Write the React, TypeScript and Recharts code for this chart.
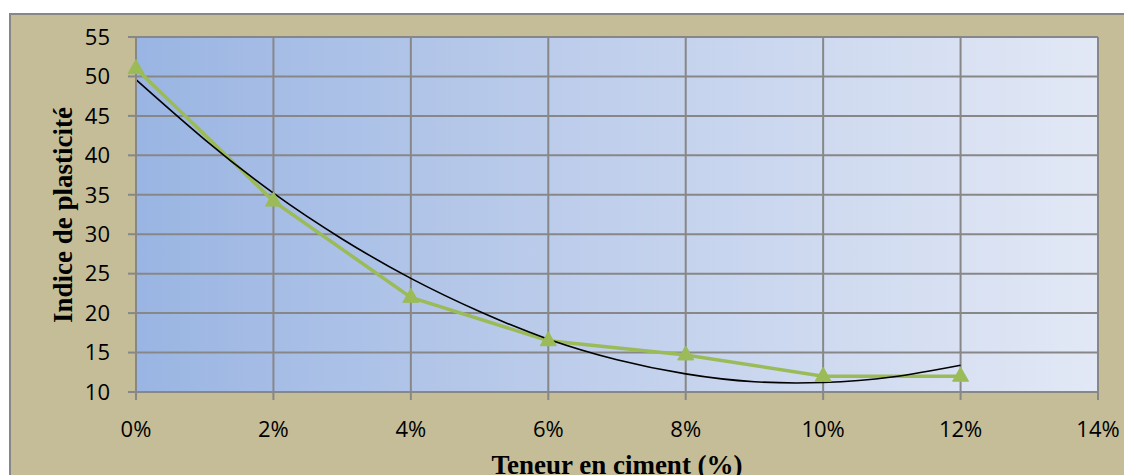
import { CartesianGrid, Label, Line, LineChart, XAxis, YAxis } from "recharts";

// teneur en ciment (%) et indice de plasticité mesuré
const cement = [0, 2, 4, 6, 8, 10, 12];
const plasticity = [51.0, 34.2, 22.0, 16.5, 14.7, 12.0, 12.0];

// courbe de tendance (polynomiale)
const trendCement = [0, 1, 2, 3, 4, 5, 6, 7, 8, 9, 10, 11, 12];
const trendPlasticity = [49.6, 42.0, 35.2, 29.4, 24.4, 20.2, 16.7, 14.1, 12.3, 11.3, 11.2, 11.9, 13.4];

const xTicks = [0, 2, 4, 6, 8, 10, 12, 14];
const yTicks = [10, 15, 20, 25, 30, 35, 40, 45, 50, 55];

const measured = cement.map((x, i) => ({ x, y: plasticity[i] }));
const trend = trendCement.map((x, i) => ({ x, y: trendPlasticity[i] }));

const gridColor = "#878787";
const green = "#9BBB59";
const tickFont = { fontSize: 22, fill: "#000", fontFamily: "'Open Sans', sans-serif" };
const labelFont = "'Liberation Serif', 'Times New Roman', serif";

function Triangle(props: any) {
  const { cx, cy } = props;
  if (cx == null || cy == null) return null;
  return (
    <polygon
      points={`${cx},${cy - 9} ${cx - 8},${cy + 5} ${cx + 8},${cy + 5}`}
      fill={green}
      stroke={green}
      strokeWidth={1}
    />
  );
}

export default function App() {
  return (
    <div
      style={{
        position: "absolute",
        left: 9,
        top: 13,
        width: 1115,
        height: 462,
        background: "#C4BD97",
        borderTop: `2px solid ${gridColor}`,
        borderLeft: `2px solid ${gridColor}`,
        overflow: "hidden",
        boxSizing: "border-box"
      }}
    >
      <LineChart width={1113} height={460} margin={{ top: 22, right: 26, left: 0, bottom: 0 }}>
        <defs>
          <linearGradient id="plotBg" x1="0" y1="0" x2="1" y2="0">
            <stop offset="0%" stopColor="#9AB5E3" />
            <stop offset="45%" stopColor="#BDCDEB" />
            <stop offset="100%" stopColor="#E2E8F5" />
          </linearGradient>
        </defs>
        <CartesianGrid stroke={gridColor} strokeWidth={2} fill="url(#plotBg)" fillOpacity={1} />
        <XAxis
          type="number"
          dataKey="x"
          domain={[0, 14]}
          ticks={xTicks}
          interval={0}
          tickFormatter={(v) => `${v}%`}
          tick={tickFont}
          tickSize={8}
          tickMargin={21}
          stroke={gridColor}
          strokeWidth={2}
          height={83}
          allowDuplicatedCategory={false}
        >
          <Label
            content={() => (
              <text
                x={606}
                y={459}
                textAnchor="middle"
                fontFamily={labelFont}
                fontWeight="bold"
                fontSize={27}
                fill="#000"
              >
                Teneur en ciment (%)
              </text>
            )}
          />
        </XAxis>
        <YAxis
          type="number"
          domain={[10, 55]}
          ticks={yTicks}
          interval={0}
          tick={tickFont}
          tickSize={8}
          tickMargin={18}
          stroke={gridColor}
          strokeWidth={2}
          width={125}
        >
          <Label
            content={() => (
              <text
                x={52}
                y={200}
                transform="rotate(-90 52 200)"
                textAnchor="middle"
                dominantBaseline="central"
                fontFamily={labelFont}
                fontWeight="bold"
                fontSize={27}
                fill="#000"
              >
                Indice de plasticité
              </text>
            )}
          />
        </YAxis>
        <Line
          data={measured}
          dataKey="y"
          type="linear"
          stroke={green}
          strokeWidth={3.5}
          dot={<Triangle />}
          activeDot={false}
          isAnimationActive={false}
        />
        <Line
          data={trend}
          dataKey="y"
          type="natural"
          stroke="#000"
          strokeWidth={1.6}
          dot={false}
          activeDot={false}
          isAnimationActive={false}
        />
      </LineChart>
    </div>
  );
}
